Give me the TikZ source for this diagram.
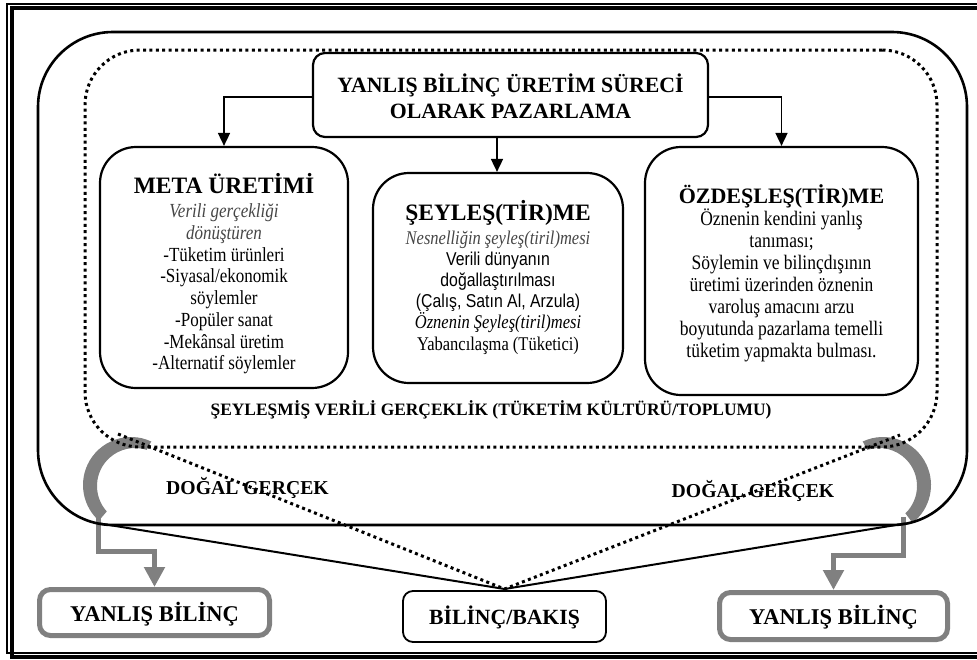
\documentclass[tikz,border=0pt]{standalone}
\usepackage{fontspec}
\setmainfont{Liberation Serif}
\newfontfamily\bodyf[FakeStretch=0.85]{Liberation Serif}
\newfontfamily\bodysf[FakeStretch=0.85]{Liberation Sans}
\usetikzlibrary{arrows.meta,calc}
\definecolor{grayc}{RGB}{128,128,128}
\definecolor{itgray}{RGB}{70,70,70}
\tikzset{
  cbox/.style={draw, line width=2.2pt, rounded corners=36pt, inner sep=0pt},
  tbox/.style={draw, line width=2.2pt, rounded corners=12pt, inner sep=0pt},
  gbox/.style={draw=grayc, line width=5pt, rounded corners=11pt, inner sep=0pt},
  bbox/.style={draw, line width=1.8pt, rounded corners=10pt, inner sep=0pt},
  blkarrow/.style={line width=1.7pt, -{Triangle[length=13pt,width=12pt]}},
  grayarrow/.style={draw=grayc, line width=5pt, -{Triangle[length=20pt,width=20pt]}, grayc},
  dotline/.style={line width=3pt, dash pattern=on 3pt off 3.4pt},
  bodytxt/.style={align=center, font=\bodyf\fontsize{20}{21.7}\selectfont, inner sep=0pt},
  lbl/.style={font=\fontsize{22.5}{26}\selectfont\bfseries, inner sep=0pt},
}
\begin{document}
\begin{tikzpicture}[x=1pt,y=-1pt]
\useasboundingbox (0,0) rectangle (977,659);
\clip (0,0) rectangle (977,659);
% frame
\draw[line width=1.2pt] (7,4) rectangle (995,653);
\draw[line width=3.5pt] (12,8) rectangle (1000,657);

% gray crescents
\fill[grayc] ([shift={(-65:48)}]131,485) arc[start angle=-65,end angle=-228,radius=48]
  -- ([shift={(-222:38)}]135,486) arc[start angle=-222,end angle=-72,radius=38] -- cycle;
\fill[grayc] ([shift={(-115:48)}]883,485) arc[start angle=-115,end angle=52,radius=48]
  -- ([shift={(46:38)}]879,486) arc[start angle=46,end angle=-108,radius=38] -- cycle;

% bottom boxes
\node[gbox, minimum width=230pt, minimum height=46pt] (ybl) at (154.5,612.5) {};
\node[gbox, minimum width=228pt, minimum height=47pt] (ybr) at (833.5,616) {};
\node[bbox, minimum width=203pt, minimum height=51pt] (bb) at (504.5,616.5) {};
\node[lbl] (yblt) at (154.5,614) {YANLIŞ BİLİNÇ};
\node[lbl] (ybrt) at (833.5,617.5) {YANLIŞ BİLİNÇ};
\node[lbl, font=\fontsize{21.7}{26}\selectfont\bfseries] (bbt) at (504.5,617) {BİLİNÇ/BAKIŞ};

% gray connectors
\coordinate (gl) at (98,517);
\coordinate (gr) at (903,517);
\draw[grayarrow] (gl) -- ++(0,34) -| (ybl.north);
\draw[grayarrow] (gr) -- ++(0,38) -| (ybr.north);

% outer solid rounded rectangle and funnel
\node[draw, line width=2.6pt, rounded corners=75pt, minimum width=929pt, minimum height=493pt, inner sep=0pt] (outer) at (502.5,278.5) {};
\coordinate (fl) at (100,523.5);
\coordinate (fr) at (905,523.5);
\coordinate (apex) at (504.5,589);
\draw[line width=2pt] (fl) -- (apex) -- (fr);

% dotted rounded rectangle and funnel
\node[dotline, draw, rounded corners=55pt, minimum width=852pt, minimum height=397pt, inner sep=0pt] (dotted) at (511,248.5) {};
\coordinate (dl) at (118,434);
\coordinate (dr) at (900,435);
\draw[dotline] (dl) -- (apex) -- (dr);

% title box
\node[tbox, minimum width=395pt, minimum height=84pt] (title) at (510.5,95) {};
\node[align=center, font=\fontsize{21.8}{26}\selectfont\bfseries, inner sep=0pt] (titlet) at (510.5,96) {YANLIŞ BİLİNÇ ÜRETİM SÜRECİ\\OLARAK PAZARLAMA};

% content boxes
\node[cbox, minimum width=248pt, minimum height=241pt] (meta) at (224,267.5) {};
\node[cbox, minimum width=250pt, minimum height=210pt] (seyl) at (498,278) {};
\node[cbox, minimum width=273pt, minimum height=248pt] (ozd) at (781.5,271) {};

% arrows
\draw[blkarrow] (title.west |- 0,97) -| (meta.north);
\draw[blkarrow] (title.east |- 0,97) -| (ozd.north);
\draw[blkarrow] (title.south -| 497,0) -- (seyl.north -| 497,0);

% texts
\node[bodytxt] (metat) at (224,273.5) {{\rmfamily\fontsize{23.5}{26}\selectfont\bfseries META ÜRETİMİ}\\[3pt]
{\color{itgray}\itshape Verili gerçekliği}\\
{\color{itgray}\itshape dönüştüren}\\
-Tüketim ürünleri\\
-Siyasal/ekonomik\\
söylemler\\
-Popüler sanat\\
-Mekânsal üretim\\
-Alternatif söylemler};

\node[bodytxt, font=\bodyf\fontsize{19.4}{21}\selectfont] (seylt) at (498,277.5) {{\rmfamily\fontsize{23.5}{26}\selectfont\bfseries ŞEYLEŞ(TİR)ME}\\[3pt]
{\color{itgray}\itshape Nesnelliğin şeyleş(tiril)mesi}\\
{\bodysf\fontsize{18.6}{21}\selectfont Verili dünyanın}\\
{\bodysf\fontsize{18.6}{21}\selectfont doğallaştırılması}\\
{\bodysf\fontsize{18.6}{21}\selectfont (Çalış, Satın Al, Arzula)}\\
{\itshape Öznenin Şeyleş(tiril)mesi}\\[1pt]
Yabancılaşma (Tüketici)};

\node[bodytxt, font=\bodyf\fontsize{20.6}{22}\selectfont] (ozdt) at (781.5,273) {{\rmfamily\fontsize{22}{24}\selectfont\bfseries ÖZDEŞLEŞ(TİR)ME}\\
Öznenin kendini yanlış\\
tanıması;\\
Söylemin ve bilinçdışının\\
üretimi üzerinden öznenin\\
varoluş amacını arzu\\
boyutunda pazarlama temelli\\
tüketim yapmakta bulması.};

\node[font=\fontsize{17.4}{20}\selectfont\bfseries, inner sep=0pt] (sey) at (491,410) {ŞEYLEŞMİŞ VERİLİ GERÇEKLİK (TÜKETİM KÜLTÜRÜ/TOPLUMU)};
\node[font=\fontsize{19.7}{22}\selectfont\bfseries, inner sep=0pt] (dgl) at (247.5,488) {DOĞAL GERÇEK};
\node[font=\fontsize{19.7}{22}\selectfont\bfseries, inner sep=0pt] (dgr) at (753,491) {DOĞAL GERÇEK};
\end{tikzpicture}
\end{document}
